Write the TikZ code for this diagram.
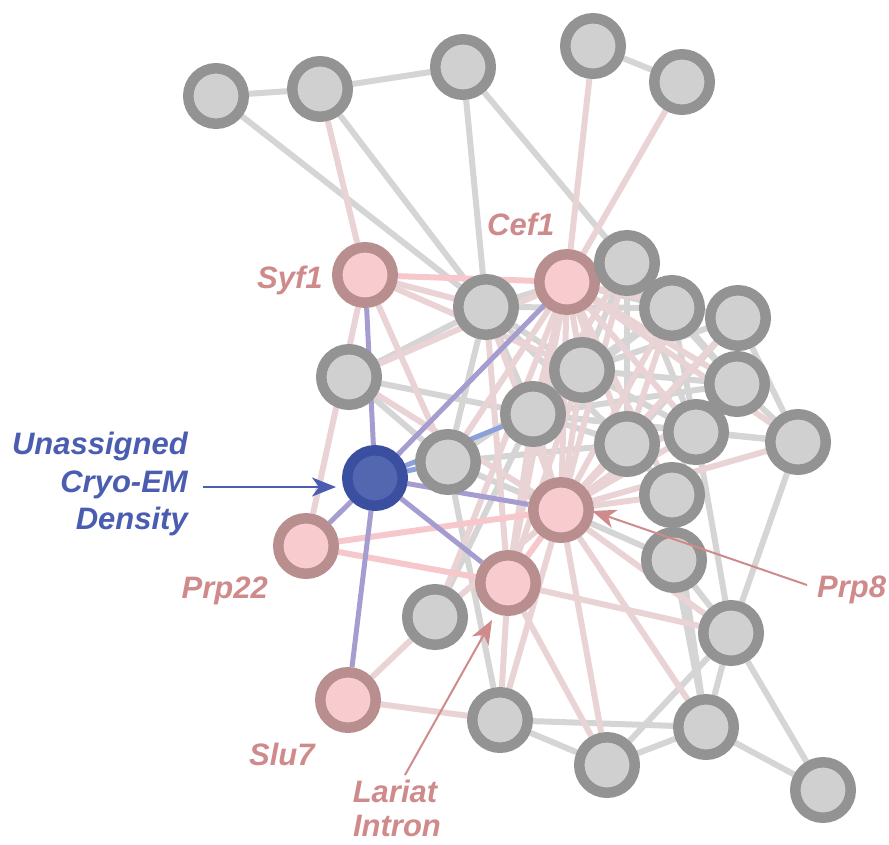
\documentclass[tikz,border=0pt]{standalone}
\usepackage{fontspec}
\setmainfont{Liberation Sans}
\usetikzlibrary{arrows.meta,backgrounds}
\definecolor{gfill}{HTML}{D0D0D0}
\definecolor{gring}{HTML}{939393}
\definecolor{pfill}{HTML}{F8CBCE}
\definecolor{pring}{HTML}{B88F8E}
\definecolor{bfill}{HTML}{5366B0}
\definecolor{bring}{HTML}{3A4FA0}
\definecolor{gline}{HTML}{D5D5D5}
\definecolor{pline}{HTML}{EAD3D5}
\definecolor{spline}{HTML}{F7C8CB}
\definecolor{uline}{HTML}{A59DCF}
\definecolor{lbline}{HTML}{8CA1DA}
\definecolor{plabel}{HTML}{CF8B8B}
\definecolor{blabel}{HTML}{4A5DB0}
\tikzset{
  gnode/.style={circle, draw=gring, fill=gfill, line width=10.5pt, minimum size=55.5pt, inner sep=0pt},
  pnode/.style={gnode, draw=pring, fill=pfill},
  bnode/.style={gnode, draw=bring, fill=bfill},
  gedge/.style={draw=gline, line width=6pt},
  pedge/.style={draw=pline, line width=6pt},
  sedge/.style={draw=spline, line width=6pt},
  uedge/.style={draw=uline, line width=5pt},
  lbedge/.style={draw=lbline, line width=5pt},
  lbl/.style={font=\fontsize{31}{37.5}\selectfont\bfseries\itshape, inner sep=0pt},
  plbl/.style={lbl, text=plabel},
  blbl/.style={lbl, text=blabel, align=right},
  parrow/.style={draw=plabel, line width=2pt, -{Stealth[length=24pt,width=19pt,inset=7pt]}},
  barrow/.style={draw=blabel, line width=2.4pt, -{Stealth[length=24pt,width=19pt,inset=7pt]}}
}
\begin{document}
\begin{tikzpicture}[x=1pt,y=-1pt]
\useasboundingbox (0,0) rectangle (889,844);
% nodes
\node[gnode] (a1) at (216,96) {};
\node[gnode] (a2) at (320,89) {};
\node[gnode] (a3) at (463,67) {};
\node[gnode] (a4) at (593,46) {};
\node[gnode] (a5) at (682,82) {};
\node[pnode] (syf) at (365,275) {};
\node[gnode] (n6) at (486,307) {};
\node[pnode] (cef) at (567,282) {};
\node[gnode] (n7) at (627,263) {};
\node[gnode] (n8) at (672,308) {};
\node[gnode] (n9) at (738,318) {};
\node[gnode] (n10) at (349,377) {};
\node[gnode] (n11) at (582,370) {};
\node[gnode] (n12) at (737,384) {};
\node[gnode] (n13) at (533,414) {};
\node[gnode] (n14) at (448,462) {};
\node[bnode] (blue) at (375,478) {};
\node[gnode] (n15) at (627,444) {};
\node[gnode] (n16) at (696,432) {};
\node[gnode] (n17) at (798,442) {};
\node[gnode] (n18) at (672,495) {};
\node[pnode] (prp8) at (561,510) {};
\node[gnode] (n19) at (674,560) {};
\node[pnode] (prp22) at (306,546) {};
\node[pnode] (lar) at (508,583) {};
\node[gnode] (n20) at (435,617) {};
\node[gnode] (n21) at (731,633) {};
\node[pnode] (slu7) at (348,700) {};
\node[gnode] (n22) at (500,720) {};
\node[gnode] (n23) at (607,765) {};
\node[gnode] (n24) at (706,727) {};
\node[gnode] (n25) at (823,790) {};
% edges
\begin{pgfonlayer}{background}
\foreach \a/\b in {a1/a2,a2/a3,a4/a5,a1/n6,a2/n6,a3/n6,a3/n7,n6/n10,n6/cef,n6/n13,n6/n11,n6/n8,n6/n14,n6/n15,
  n10/n14,n14/n22,n14/n11,n14/prp8,n20/n13,n7/n11,n7/n15,n7/n12,n7/n16,n8/n11,n8/n13,n8/n16,n8/n12,
  n9/n12,n9/n17,n9/n11,n9/n15,n11/n16,n11/n13,n11/n12,n13/n15,n13/n16,n13/n12,n15/n16,n15/n18,
  n16/n17,n12/n17,n12/n16,n13/n17,n16/n18,prp8/n19,n19/n24,n19/n21,n18/n24,n16/n21,n17/n21,n21/n25,
  n21/n24,n21/n23,n22/n23,n22/n24,n23/n24,n24/n25,cef/n8,cef/n7,n14/n15,n10/n13}
  \draw[gedge] (\a) -- (\b);
\foreach \a/\b in {a2/syf,a4/cef,a5/cef,syf/n6,syf/n11,syf/n14,n10/cef,n10/prp8,cef/prp8,cef/lar,cef/n13,
  cef/n11,cef/n15,cef/n16,cef/n12,cef/n9,cef/n18,cef/n14,cef/n20,n7/prp8,n8/prp8,n9/prp8,n11/prp8,
  n12/prp8,n13/prp8,n15/prp8,n16/prp8,n17/prp8,n18/prp8,n6/prp8,n20/prp8,n22/prp8,n23/prp8,n24/prp8,
  n21/prp8,lar/n22,lar/n23,lar/n21,lar/n13,lar/n11,lar/n6,slu7/n20,slu7/n22,syf/prp22,n7/n13,n8/n15,cef/n17}
  \draw[pedge] (\a) -- (\b);
\foreach \a/\b in {syf/cef,prp22/prp8,prp22/lar,lar/prp8}
  \draw[sedge] (\a) -- (\b);
\foreach \a/\b in {blue/n13,blue/n14}
  \draw[lbedge] (\a) -- (\b);
\foreach \a/\b in {blue/syf,blue/cef,blue/prp8,blue/lar,blue/slu7,blue/prp22}
  \draw[uedge] (\a) -- (\b);
\end{pgfonlayer}
% labels
\node[blbl, anchor=east] (ulab) at (188,484) {Unassigned\\Cryo-EM\\Density};
\coordinate (ustart) at (203,487);
\coordinate (uend) at (336,487);
\draw[barrow] (ustart) -- (uend);
\node[plbl, anchor=base west] (syflab) at (257,288) {Syf1};
\node[plbl, anchor=base west] (ceflab) at (487,235) {Cef1};
\node[plbl, anchor=base east] (prp22lab) at (268,598) {Prp22};
\node[plbl, anchor=base west] (slu7lab) at (249,765) {Slu7};
\node[plbl, anchor=base] (larlab) at (395,802) {Lariat};
\node[plbl, anchor=base] (intlab) at (397,836) {Intron};
\node[plbl, anchor=base west] (prp8lab) at (817,597) {Prp8};
\coordinate (lstart) at (405,775);
\coordinate (lend) at (492,620);
\draw[parrow] (lstart) -- (lend);
\coordinate (pstart) at (807,585);
\coordinate (pend) at (592,511);
\draw[parrow] (pstart) -- (pend);
\end{tikzpicture}
\end{document}
